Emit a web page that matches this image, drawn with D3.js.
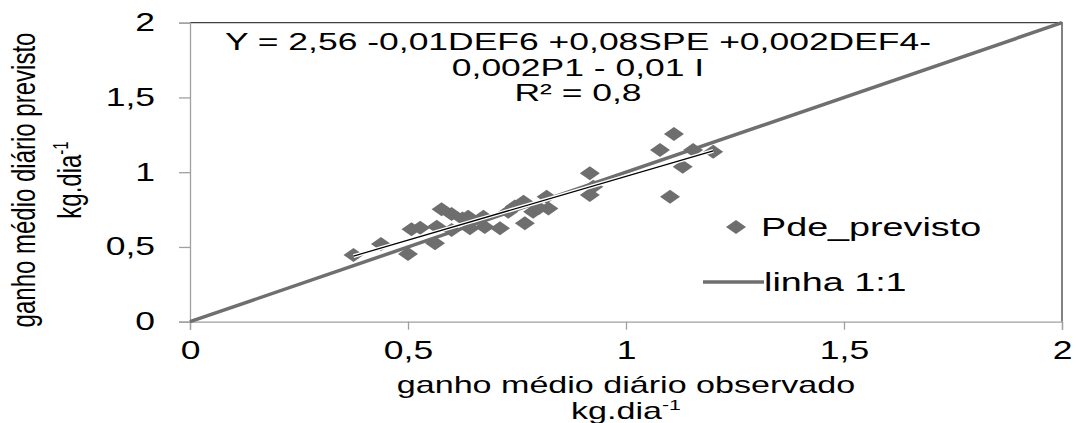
<!DOCTYPE html>
<html>
<head>
<meta charset="utf-8">
<script src="https://cdn.jsdelivr.net/npm/d3@7"></script>
<style>
  body { margin: 0; background: #fff; }
  text { font-family: "Liberation Sans", Arial, sans-serif; fill: #000; }
</style>
</head>
<body>
<div id="chart"></div>
<script>
const observed = [0.375, 0.438, 0.500, 0.508, 0.528, 0.562, 0.566, 0.577, 0.600, 0.600,
                  0.625, 0.638, 0.642, 0.673, 0.676, 0.711, 0.730, 0.745, 0.765, 0.768,
                  0.787, 0.800, 0.818, 0.822, 0.917, 0.925, 0.917, 1.078, 1.110, 1.101,
                  1.130, 1.154, 1.200];
const predicted = [0.446, 0.520, 0.453, 0.618, 0.629, 0.524, 0.635, 0.752, 0.720, 0.613,
                   0.690, 0.702, 0.625, 0.702, 0.634, 0.625, 0.736, 0.770, 0.803, 0.658,
                   0.736, 0.760, 0.836, 0.758, 0.993, 0.903, 0.847, 1.148, 1.256, 0.836,
                   1.037, 1.148, 1.137];
// excel linear trendline endpoints
const trendX = [0.375, 1.2];
const trendY = [0.439, 1.143];
// 1:1 line
const identityX = [0, 2];
const identityY = [0, 2];

const xTicks = [0, 0.5, 1, 1.5, 2];
const yTicks = [0, 0.5, 1, 1.5, 2];
const equationLines = ["Y = 2,56 -0,01DEF6 +0,08SPE +0,002DEF4-", "0,002P1 - 0,01 I", "R\u00b2 = 0,8"];
const legendLabels = ["Pde_previsto", "linha 1:1"];

const width = 1076, height = 423;
const SX = 1.42; // the original figure is stretched sideways

const svg = d3.select("#chart").append("svg")
    .attr("width", width)
    .attr("height", height);

const x = d3.scaleLinear().domain([0, 2]).range([190, 1062]);
const y = d3.scaleLinear().domain([0, 2]).range([321.7, 22.7]);

const fmt = d => String(d).replace(".", ",");

// plot frame (top/right dark)
svg.append("path")
    .attr("d", `M${x(0)},${y(2)}H${x(2)}V${y(0)}`)
    .attr("fill", "none")
    .attr("stroke", "#404040")
    .attr("stroke-width", 1.3);

// axes
const xAxis = svg.append("g")
    .attr("transform", `translate(0,${y(0)})`)
    .call(d3.axisBottom(x).tickValues(xTicks).tickFormat(fmt).tickSize(8).tickPadding(12));
const yAxis = svg.append("g")
    .attr("transform", `translate(${x(0)},0)`)
    .call(d3.axisLeft(y).tickValues(yTicks).tickFormat(fmt).tickSize(11).tickPadding(24));

[xAxis, yAxis].forEach(a => {
    a.select(".domain").attr("stroke", "#a0a0a0").attr("stroke-width", 1.3);
    a.selectAll(".tick line").attr("stroke", "#a0a0a0").attr("stroke-width", 1.3);
    a.selectAll(".tick text")
        .style("font-size", "25px")
        .attr("fill", "#000");
});
xAxis.selectAll(".tick text").attr("transform", `scale(${SX},1)`);
yAxis.selectAll(".tick text")
    .attr("x", -(11 + 24) / SX)
    .attr("transform", `scale(${SX},1)`);

// 1:1 line
const line = d3.line().x(d => x(d[0])).y(d => y(d[1]));
svg.append("path")
    .datum(d3.zip(identityX, identityY))
    .attr("d", line)
    .attr("fill", "none")
    .attr("stroke", "#6f6f6f")
    .attr("stroke-width", 3.5);

// points
const diamond = "M0,-7L10,0L0,7L-10,0Z";
svg.append("g").selectAll("path")
    .data(d3.zip(observed, predicted))
    .join("path")
    .attr("d", diamond)
    .attr("transform", d => `translate(${x(d[0])},${y(d[1])})`)
    .attr("fill", "#6e6e6e");

// trend line with a white halo
const trend = d3.zip(trendX, trendY);
svg.append("path").datum(trend).attr("d", line)
    .attr("fill", "none").attr("stroke", "#fff").attr("stroke-width", 4);
svg.append("path").datum(trend).attr("d", line)
    .attr("fill", "none").attr("stroke", "#000").attr("stroke-width", 1.3);

// helper for stretched text
function stretched(txt, px, py, size, anchor, rot, sx = SX) {
    return svg.append("text")
        .attr("transform", `translate(${px},${py}) scale(${sx},1)` + (rot ? ` rotate(${rot})` : ""))
        .attr("text-anchor", anchor)
        .style("font-size", size + "px")
        .text(txt);
}

// equation
equationLines.forEach((t, i) => stretched(t, 578, 50 + i * 25.5, 23.5, "middle", 0, 1.51));

// legend
svg.append("path").attr("d", diamond)
    .attr("transform", "translate(736,227)")
    .attr("fill", "#6e6e6e");
stretched(legendLabels[0], 761, 236, 25.5, "start", 0, 1.48);
svg.append("line")
    .attr("x1", 703).attr("x2", 764).attr("y1", 282).attr("y2", 282)
    .attr("stroke", "#6f6f6f").attr("stroke-width", 3.5);
stretched(legendLabels[1], 764, 291, 25.5, "start", 0, 1.48);

// x title
stretched("ganho médio diário observado", 626, 393, 24, "middle");
const xt2 = stretched("kg.dia", 626, 419, 24, "middle");
xt2.append("tspan").attr("dy", -9).style("font-size", "15px").text("-1");

// y title
stretched("ganho médio diário previsto", 35, 180, 24, "middle", -90);
const yt2 = stretched("kg.dia", 81, 180, 24, "middle", -90);
yt2.append("tspan").attr("dy", -9).style("font-size", "15px").text("-1");
</script>
</body>
</html>
